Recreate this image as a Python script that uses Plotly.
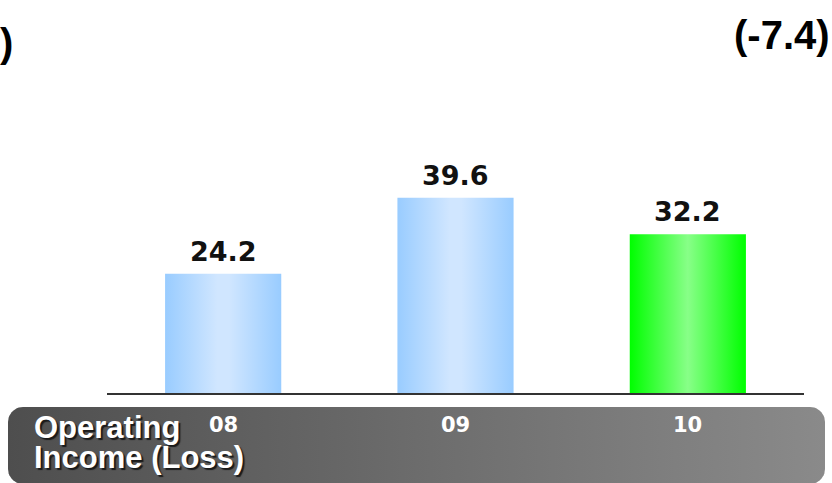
import numpy as np
import plotly.graph_objects as go

# ---- data ----
years = ["08", "09", "10"]
operating_income = [24.2, 39.6, 32.2]
row_title = ["Operating", "Income (Loss)"]
change_label = "(-7.4)"

W, H = 832, 483
BAR_WIDTH = 0.5

blue_scale = [[0.0, "#99ccff"], [0.45, "#d0e6ff"], [0.55, "#d0e6ff"], [1.0, "#99ccff"]]
green_scale = [[0.0, "#00ff00"], [0.5, "#88ff88"], [1.0, "#00ff00"]]
bar_scales = [blue_scale, blue_scale, green_scale]

fig = go.Figure()

# ---- decoration layer: pixel-like coordinate system over the whole page ----
def rounded_rect(x0, y0, x1, y1, r, n=12):
    xs, ys = [], []
    corners = [
        (x1 - r, y0 + r, -np.pi / 2, 0.0),
        (x1 - r, y1 - r, 0.0, np.pi / 2),
        (x0 + r, y1 - r, np.pi / 2, np.pi),
        (x0 + r, y0 + r, np.pi, 1.5 * np.pi),
    ]
    for cx, cy, a0, a1 in corners:
        t = np.linspace(a0, a1, n)
        xs.extend(cx + r * np.cos(t))
        ys.extend(cy + r * np.sin(t))
    xs.append(xs[0])
    ys.append(ys[0])
    return xs, ys

bx, by = rounded_rect(8, 407, 825, 484, 15)
fig.add_trace(go.Scatter(
    x=bx, y=by, xaxis="x", yaxis="y", mode="lines", fill="toself",
    line=dict(width=0, color="rgba(0,0,0,0)"),
    fillgradient=dict(type="horizontal",
                      colorscale=[[0.0, "#4e4e4e"], [1.0, "#8a8a8a"]]),
    hoverinfo="skip", showlegend=False,
))

# ---- bars with a horizontal gradient fill ----
for i, (val, scale) in enumerate(zip(operating_income, bar_scales)):
    x0, x1 = i - BAR_WIDTH / 2, i + BAR_WIDTH / 2
    fig.add_trace(go.Scatter(
        x=[x0, x0, x1, x1, x0], y=[0, val, val, 0, 0],
        xaxis="x2", yaxis="y2", mode="lines", fill="toself",
        line=dict(width=0, color="rgba(0,0,0,0)"),
        fillgradient=dict(type="horizontal", colorscale=scale),
        hoverinfo="skip", showlegend=False,
    ))

annotations = []
# value labels above bars
for i, val in enumerate(operating_income):
    annotations.append(dict(
        x=i, y=val, xref="x2", yref="y2", text=f"{val:.1f}",
        showarrow=False, xanchor="center", yanchor="bottom", yshift=5,
        font=dict(family="DejaVu Sans", size=27, color="#111111", weight="bold"),
    ))
# year labels inside the grey band
for i, yr in enumerate(years):
    annotations.append(dict(
        x=i, y=425, xref="x2", yref="y", text=yr,
        showarrow=False, xanchor="center", yanchor="middle",
        font=dict(family="DejaVu Sans", size=21, color="#ffffff", weight="bold"),
    ))
# row title
for line, ytop in zip(row_title, [409, 439]):
    annotations.append(dict(
        x=33, y=ytop, xref="x", yref="y", text=line,
        showarrow=False, xanchor="left", yanchor="top", borderpad=0,
        font=dict(family="Liberation Sans, Arial", size=31, color="#ffffff",
                  weight="bold", shadow="2px 2px 1px #1a1a1a"),
    ))
# headline figures
headline_font = dict(family="Liberation Sans, Arial", size=40, color="#000000",
                     weight="bold")
annotations.append(dict(
    x=831, y=35, xref="x", yref="y", text=change_label,
    showarrow=False, xanchor="right", yanchor="middle", borderpad=0,
    font=headline_font,
))
annotations.append(dict(
    x=14, y=43, xref="x", yref="y", text=")",
    showarrow=False, xanchor="right", yanchor="middle", borderpad=0,
    font=headline_font,
))

plot_x0, plot_x1, base_y = 107, 804, 393
px_per_unit = 4.93

fig.update_layout(
    width=W, height=H,
    margin=dict(l=0, r=0, t=0, b=0),
    paper_bgcolor="#ffffff", plot_bgcolor="rgba(0,0,0,0)",
    showlegend=False,
    annotations=annotations,
    xaxis=dict(domain=[0, 1], range=[0, W], visible=False, fixedrange=True),
    yaxis=dict(domain=[0, 1], range=[H, 0], visible=False, fixedrange=True),
    xaxis2=dict(domain=[plot_x0 / W, plot_x1 / W], range=[-0.5, 2.5],
                anchor="y2", showgrid=False, zeroline=False,
                showticklabels=False, ticks="",
                showline=True, linecolor="#333333", linewidth=2),
    yaxis2=dict(domain=[(H - base_y) / H, 1], range=[0, base_y / px_per_unit],
                anchor="x2", visible=False, showgrid=False, zeroline=False),
)

fig.write_html("out.html")
